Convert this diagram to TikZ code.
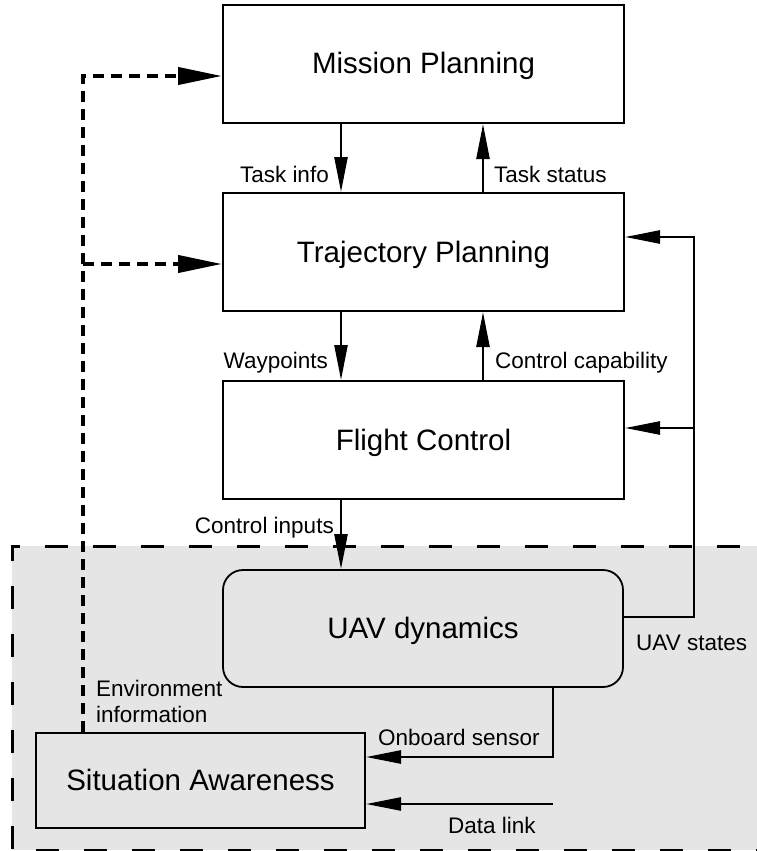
\documentclass[tikz,border=0pt]{standalone}
\usepackage{fontspec}
\setmainfont{Liberation Sans}
\usetikzlibrary{arrows.meta}
\definecolor{regfill}{RGB}{229,229,229}
\begin{document}
\begin{tikzpicture}[x=1pt,y=-1pt,
  boxnode/.style={draw, line width=2pt, minimum width=401pt, minimum height=118pt, inner sep=0pt,
    font=\fontsize{29.5}{35}\selectfont, text height=20pt, text depth=0pt},
  lbl/.style={inner sep=0pt, font=\fontsize{22.5}{27}\selectfont},
  arr/.style={line width=2.5pt, -{Triangle[length=35pt,width=13pt]}},
  dsh/.style={line width=4pt, dash pattern=on 11pt off 7pt, -{Triangle[length=44pt,width=17pt]}},
  region/.style={line width=3pt, dash pattern=on 23pt off 25pt, dash phase=31pt}]
\useasboundingbox (0,0) rectangle (757,851);
% shaded region
\fill[regfill] (12,546) rectangle (757,850);
\draw[region] (757,546) -- (12,546) -- (12,850) -- (757,850);
% boxes
\node[boxnode] (mp) at (423.5,64) {Mission Planning};
\node[boxnode] (tp) at (423.5,252) {Trajectory Planning};
\node[boxnode] (fc) at (423.5,440) {Flight Control};
\node[boxnode, rounded corners=20pt, minimum width=400pt, minimum height=117pt, line width=1.8pt] (uav) at (423,628.5) {UAV dynamics};
\node[boxnode, minimum width=329pt, minimum height=95pt] (sa) at (200.5,780.5) {Situation Awareness};
% helper coordinates
\coordinate (cl) at (341,0);
\coordinate (cr) at (483,0);
\coordinate (rs) at (694,617);
\coordinate (rt) at (694,237);
\coordinate (fb) at (694,428);
\coordinate (ob) at (553,757);
\coordinate (dl) at (553,804);
\coordinate (fl) at (83,76);
\coordinate (ft) at (83,264);
% vertical connectors
\draw[arr] (mp.south -| cl) -- (tp.north -| cl);
\draw[arr] (tp.north -| cr) -- (mp.south -| cr);
\draw[arr] (tp.south -| cl) -- (fc.north -| cl);
\draw[arr] (fc.north -| cr) -- (tp.south -| cr);
\draw[arr] (fc.south -| cl) -- (uav.north -| cl);
% UAV states feedback
\draw[arr] (uav.east |- rs) -- (rs) -- (rt) -- (tp.east |- rt);
\draw[arr] (fb) -- (fc.east |- fb);
% sensors
\draw[arr] (uav.south -| ob) -- (ob) -- (sa.east |- ob);
\draw[arr] (dl) -- (sa.east |- dl);
% environment information (dashed)
\draw[dsh] (sa.north -| fl) -- (fl) -- (mp.west |- fl);
\draw[dsh] (ft) -- (tp.west |- ft);
% labels
\node[lbl, anchor=base east] (l1) at (329,182) {Task info};
\node[lbl, anchor=base west] (l2) at (494,182) {Task status};
\node[lbl, anchor=base east] (l3) at (328,368) {Waypoints};
\node[lbl, anchor=base west] (l4) at (495,368) {Control capability};
\node[lbl, anchor=base east] (l5) at (334,533) {Control inputs};
\node[lbl, anchor=base west] (l6) at (636,650) {UAV states};
\node[lbl, anchor=base west] (l7) at (96,696) {Environment};
\node[lbl, anchor=base west] (l8) at (96,722) {information};
\node[lbl, anchor=base west] (l9) at (378,745) {Onboard sensor};
\node[lbl, anchor=base west] (l10) at (448,833) {Data link};
\end{tikzpicture}
\end{document}
